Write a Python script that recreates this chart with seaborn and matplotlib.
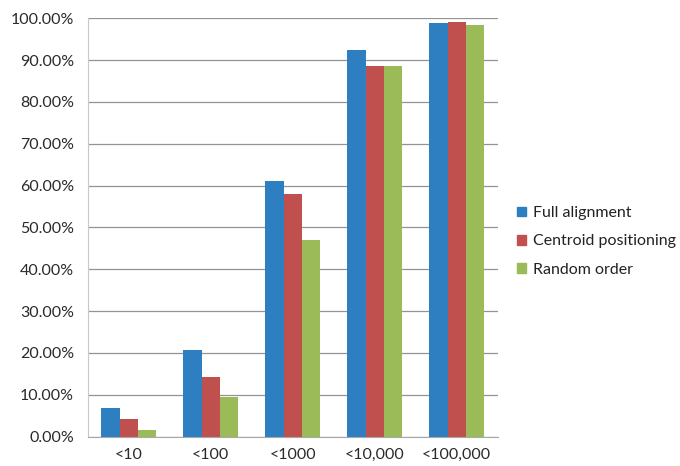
import matplotlib
matplotlib.use("Agg")
import matplotlib.pyplot as plt
import seaborn as sns
import pandas as pd
import numpy as np

categories = ["<10", "<100", "<1000", "<10,000", "<100,000"]
methods = ["Full alignment", "Centroid positioning", "Random order"]
full_alignment = [6.8, 20.8, 61.0, 92.3, 98.8]
centroid_positioning = [4.2, 14.3, 57.9, 88.6, 99.0]
random_order = [1.7, 9.4, 46.9, 88.6, 98.4]
colors = ["#2d7fc1", "#c0504d", "#9bbb59"]
y_ticks = list(range(0, 101, 10))

rows = []
for name, vals in zip(methods, [full_alignment, centroid_positioning, random_order]):
    for cat, v in zip(categories, vals):
        rows.append({"range": cat, "method": name, "value": v})
df = pd.DataFrame(rows)

sns.set_style("white")
plt.rcParams["font.family"] = ["Lato", "DejaVu Sans"]

fig = plt.figure(figsize=(6.8, 4.66), dpi=100)
ax = fig.add_axes([0.129, 0.063, 0.603, 0.898])

sns.barplot(data=df, x="range", y="value", hue="method", order=categories,
            hue_order=methods, palette=colors, saturation=1, width=0.67,
            errorbar=None, ax=ax, legend=False, linewidth=0, edgecolor="none")

ax.set_ylim(0, 100)
ax.set_xlim(-0.5, len(categories) - 0.5)
ax.set_yticks(y_ticks)
ax.set_yticklabels([f"{t:.2f}%" for t in y_ticks])
ax.yaxis.grid(True, color="#939393", linewidth=0.9)
ax.set_axisbelow(True)
ax.set_xlabel("")
ax.set_ylabel("")

for s in ["top", "right"]:
    ax.spines[s].set_visible(False)
ax.spines["left"].set_color("#c8c8c8")
ax.spines["bottom"].set_color("#a8a8a8")

ax.tick_params(axis="y", length=0, pad=10, labelsize=11.5, labelcolor="#2a2a2a")
ax.tick_params(axis="x", which="major", length=0, pad=8, labelsize=11.5, labelcolor="#2a2a2a")
ax.set_xticks(np.arange(-0.5, len(categories), 1.0), minor=True)
ax.tick_params(axis="x", which="minor", length=5, color="#a8a8a8", direction="out")

handles = [plt.Rectangle((0, 0), 1, 1, color=c) for c in colors]
fig.legend(handles, methods, loc="center left", bbox_to_anchor=(0.739, 0.482),
           frameon=False, handlelength=0.55, handleheight=0.55, handletextpad=0.45,
           labelspacing=0.9, fontsize=11.5, labelcolor="#222222")

fig.savefig("out.png", dpi=100)
